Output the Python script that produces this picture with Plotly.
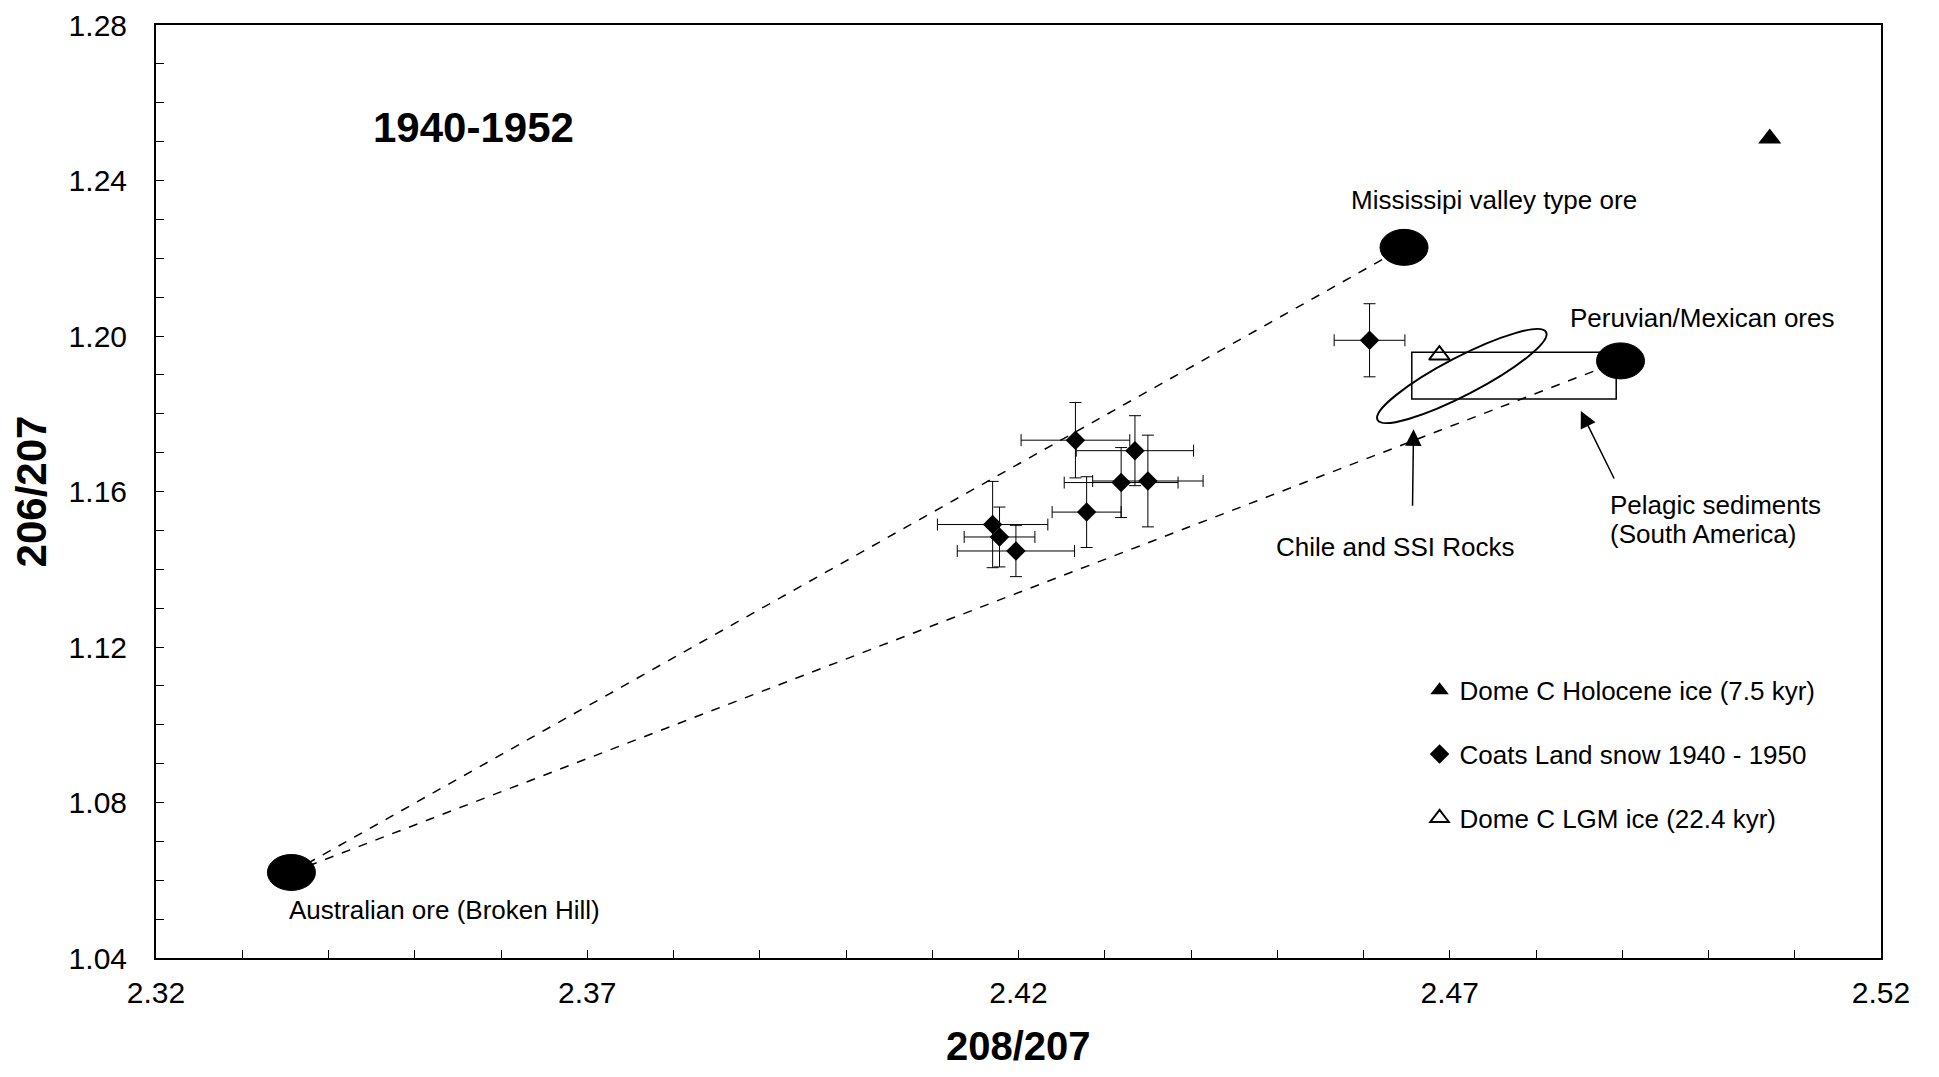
import plotly.graph_objects as go
import math

# Coats Land snow 1940-1950 (208/207, 206/207 with 2-sigma bars)
coats_x = [2.4266, 2.4335, 2.4319, 2.4350, 2.4279, 2.4170, 2.4178, 2.4197, 2.4607]
coats_y = [1.1732, 1.1705, 1.1623, 1.1627, 1.1547, 1.1515, 1.1483, 1.1447, 1.1989]
coats_xerr = [0.0063, 0.0068, 0.0066, 0.0064, 0.0040, 0.0064, 0.0041, 0.0068, 0.0041]
coats_yerr = [0.0097, 0.0090, 0.0090, 0.0118, 0.0091, 0.0111, 0.0077, 0.0066, 0.0094]

# Dome C ice
holocene_x = [2.5071]
holocene_y = [1.2508]
lgm_x = [2.4688]
lgm_y = [1.1951]

# ore end-members: Australian, Mississippi valley, Peruvian/Mexican
ore_names = ["Australian ore (Broken Hill)", "Mississipi valley type ore", "Peruvian/Mexican ores"]
ore_x = [2.3357, 2.4647, 2.4898]
ore_y = [1.0620, 1.2228, 1.1936]

# pelagic sediments (South America) box
pelagic_x = [2.4656, 2.4893]
pelagic_y = [1.1838, 1.1958]

# Chile and SSI rocks field (centre)
chile_x = [2.4714]
chile_y = [1.1897]

FONT = "Liberation Sans, Arial, sans-serif"

fig = go.Figure()

# mixing lines from Broken Hill
for i in [1, 2]:
    fig.add_trace(go.Scatter(x=[ore_x[0], ore_x[i]], y=[ore_y[0], ore_y[i]],
                             mode='lines', line=dict(color='black', width=1.5, dash='dash'),
                             showlegend=False, hoverinfo='skip'))

fig.add_trace(go.Scatter(x=holocene_x, y=holocene_y, mode='markers',
                         name='Dome C Holocene ice (7.5 kyr)', legendgroup='a', legendrank=1,
                         marker=dict(symbol='triangle-up', size=20, color='black')))

fig.add_trace(go.Scatter(x=coats_x, y=coats_y, mode='markers',
                         name='Coats Land snow 1940 - 1950', legendgroup='b', legendrank=2,
                         marker=dict(symbol='diamond', size=15, color='black'),
                         error_x=dict(type='data', array=coats_xerr, color='black', thickness=1, width=6),
                         error_y=dict(type='data', array=coats_yerr, color='black', thickness=1, width=6)))

fig.add_trace(go.Scatter(x=lgm_x, y=lgm_y, mode='markers',
                         name='Dome C LGM ice (22.4 kyr)', legendgroup='c', legendrank=3,
                         marker=dict(symbol='triangle-up-open', size=18, color='black',
                                     line=dict(width=2, color='black'))))

# pelagic box
fig.add_shape(type='rect', xref='x', yref='y',
              x0=pelagic_x[0], x1=pelagic_x[1], y0=pelagic_y[0], y1=pelagic_y[1],
              line=dict(color='black', width=1.5))

# Chile/SSI ellipse as a bezier path (pixel sized, anchored on data centre)
a, b, th = 95, 19, math.radians(27.5)
k = 0.5523
u = (a * math.cos(th), a * math.sin(th))
v = (-b * math.sin(th), b * math.cos(th))
def pt(cu, cv):
    return (cu * u[0] + cv * v[0], cu * u[1] + cv * v[1])
quads = [((1, 0), (1, k), (k, 1), (0, 1)),
         ((0, 1), (-k, 1), (-1, k), (-1, 0)),
         ((-1, 0), (-1, -k), (-k, -1), (0, -1)),
         ((0, -1), (k, -1), (1, -k), (1, 0))]
p0 = pt(1, 0)
path = "M %.2f,%.2f" % p0
for q in quads:
    c1, c2, p3 = pt(*q[1]), pt(*q[2]), pt(*q[3])
    path += " C %.2f,%.2f %.2f,%.2f %.2f,%.2f" % (c1 + c2 + p3)
path += " Z"
fig.add_shape(type='path', xref='x', yref='y', xsizemode='pixel', ysizemode='pixel',
              xanchor=chile_x[0], yanchor=chile_y[0], path=path,
              line=dict(color='black', width=2))

# ore ovals
for ox, oy in zip(ore_x, ore_y):
    fig.add_shape(type='circle', xref='x', yref='y', xsizemode='pixel', ysizemode='pixel',
                  xanchor=ox, yanchor=oy, x0=-24, x1=24, y0=-18, y1=18,
                  fillcolor='black', line=dict(color='black', width=1))

anno_font = dict(family=FONT, size=26, color='black')
fig.add_annotation(x=2.3449, y=1.2536, text='<b>1940-1952</b>', showarrow=False,
                   xanchor='left', font=dict(family=FONT, size=42, color='black'))
fig.add_annotation(x=2.4583, y=1.2349, text=ore_names[1], showarrow=False, xanchor='left', font=anno_font)
fig.add_annotation(x=2.4837, y=1.2046, text=ore_names[2], showarrow=False, xanchor='left', font=anno_font)
fig.add_annotation(x=2.3352, y=1.0524, text=ore_names[0], showarrow=False, xanchor='left', font=anno_font)
fig.add_annotation(x=2.4637, y=1.1457, text='Chile and SSI Rocks', showarrow=False, xanchor='center', font=anno_font)
fig.add_annotation(x=2.4883, y=1.1565, text='Pelagic sediments', showarrow=False, xanchor='left', font=anno_font)
fig.add_annotation(x=2.4883, y=1.1490, text='(South America)', showarrow=False, xanchor='left', font=anno_font)

# arrows
fig.add_annotation(x=2.4658, y=1.1760, ax=-1, ay=78, text='', showarrow=True,
                   arrowhead=2, arrowsize=2.2, arrowwidth=1.5, arrowcolor='black')
fig.add_annotation(x=2.4852, y=1.1807, ax=34, ay=69, text='', showarrow=True,
                   arrowhead=2, arrowsize=2.2, arrowwidth=1.5, arrowcolor='black')

# x axis title
fig.add_annotation(xref='paper', yref='paper', x=0.5, y=-0.0943, yanchor='middle',
                   text='<b>208/207</b>', showarrow=False, borderpad=0,
                   font=dict(family=FONT, size=40, color='black'))

fig.update_xaxes(range=[2.32, 2.52], tick0=2.32, dtick=0.05, tickformat='.2f',
                 ticks='inside', ticklen=8, tickwidth=1, tickcolor='black',
                 minor=dict(dtick=0.01, ticks='inside', ticklen=8, tickcolor='black'),
                 showline=True, linecolor='black', linewidth=2, mirror=True,
                 showgrid=False, zeroline=False, ticklabelstandoff=7, automargin=False,
                 tickfont=dict(family=FONT, size=30, color='black'))
fig.update_yaxes(range=[1.04, 1.28], tick0=1.04, dtick=0.04, tickformat='.2f',
                 ticks='inside', ticklen=8, tickwidth=1, tickcolor='black',
                 minor=dict(dtick=0.01, ticks='inside', ticklen=8, tickcolor='black'),
                 showline=True, linecolor='black', linewidth=2, mirror=True,
                 showgrid=False, zeroline=False, ticklabelstandoff=21, automargin=False,
                 tickfont=dict(family=FONT, size=30, color='black'),
                 title=dict(text='<b>206/207</b>', font=dict(family=FONT, size=42, color='black'), standoff=12))

fig.update_layout(width=1923, height=1061,
                  margin=dict(l=148, r=50, t=17, b=111),
                  plot_bgcolor='white', paper_bgcolor='white',
                  font=dict(family=FONT, color='black'),
                  legend=dict(x=0.7325, y=0.312, xanchor='left', yanchor='top',
                              font=dict(family=FONT, size=26, color='black'),
                              tracegroupgap=27, bgcolor='rgba(0,0,0,0)'))

fig.write_html("out.html")
